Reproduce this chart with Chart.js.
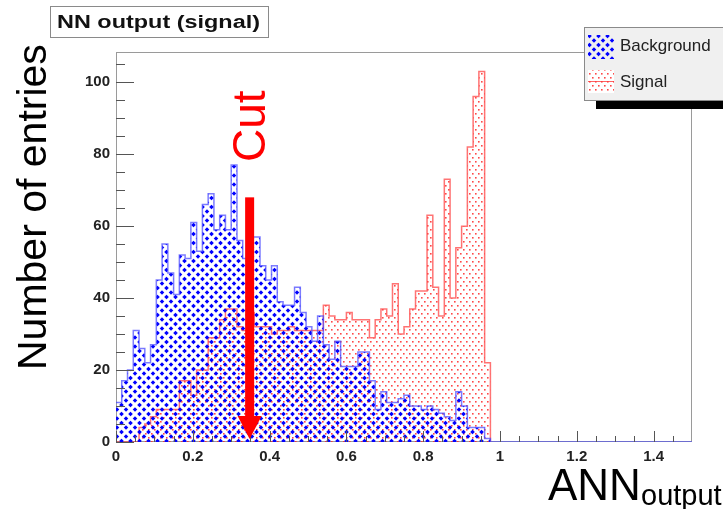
<!DOCTYPE html>
<html>
<head>
<meta charset="utf-8">
<script src="https://cdn.jsdelivr.net/npm/chart.js@4.4.0/dist/chart.umd.min.js"></script>
<style>
  html, body { margin: 0; padding: 0; background: #fff; }
  #wrap { width: 723px; height: 509px; }
</style>
</head>
<body>
<div id="wrap"><canvas id="chart" width="723" height="509"></canvas></div>
<script>
// histogram: 0.015 wide bins starting at 0, x range 0..1.5
const BIN_WIDTH = 0.015;
const X_MAX = 1.5;
const Y_MAX = 108.4;
const CUT_X = 0.348;
const CUT_TOP = 68;

const backgroundCounts = [
  11, 17, 20, 31, 26, 22, 27, 45, 55, 47,
  41, 52, 51, 61, 53, 66, 69, 59, 63, 59,
  77, 56, 51, 57, 57, 49, 45, 49, 39, 38,
  38, 43, 36, 32, 28, 35, 27, 23, 28, 21,
  21, 21, 25, 25, 17, 9, 14, 11, 11, 12,
  13, 10, 10, 9, 10, 9, 8, 7, 6, 14,
  10, 4, 4, 4, 1
];
const signalCounts = [
  0, 0, 0, 0, 4, 5, 7, 9, 9, 9,
  9, 17, 17, 13, 20, 20, 29, 29, 34, 37,
  37, 32, 31, 36, 32, 32, 32, 30, 31, 31,
  32, 31, 31, 31, 31, 31, 38, 35, 34, 34,
  36, 34, 34, 34, 29, 34, 37, 35, 44, 30,
  32, 37, 42, 42, 63, 43, 35, 73, 40, 54,
  60, 82, 96, 103, 22
];
const xTickStep = 0.2;
const yTickStep = 20;
const legendLabels = ["Background", "Signal"];

const FONT = "'Liberation Sans', Arial, Helvetica, sans-serif";
const canvas = document.getElementById("chart");
const ctx = canvas.getContext("2d");

// bin low edges with the bin content, closed with a zero point at the last edge
function toSteps(counts, extendTo) {
  const pts = counts.map((v, i) => ({ x: i * BIN_WIDTH, y: v }));
  pts.push({ x: counts.length * BIN_WIDTH, y: 0 });
  if (extendTo) pts.push({ x: extendTo, y: 0 });
  return pts;
}

function makeHatch() {
  const s = 9;
  const c = document.createElement("canvas");
  c.width = s; c.height = s;
  const g = c.getContext("2d");
  g.fillStyle = "#0000ff";
  g.fillRect(0, 0, s, s);
  g.globalCompositeOperation = "destination-out";
  g.lineWidth = 3.1;
  for (const o of [-s, 0, s]) {
    g.beginPath(); g.moveTo(o, 0); g.lineTo(o + s, s); g.stroke();
    g.beginPath(); g.moveTo(o, s); g.lineTo(o + s, 0); g.stroke();
  }
  return ctx.createPattern(c, "repeat");
}

function makeDots() {
  const c = document.createElement("canvas");
  c.width = 6; c.height = 8;
  const g = c.getContext("2d");
  g.fillStyle = "rgba(255,40,40,0.85)";
  g.fillRect(1, 1, 1.6, 1.6);
  g.fillRect(4, 5, 1.6, 1.6);
  return ctx.createPattern(c, "repeat");
}

const hatch = makeHatch();
const dots = makeDots();

const rootFrame = {
  id: "rootFrame",
  beforeDatasetsDraw(chart) {
    const a = chart.chartArea;
    const c = chart.ctx;
    c.save();
    c.strokeStyle = "#9a9a9a";
    c.lineWidth = 1;
    c.strokeRect(Math.round(a.left) + 0.5, Math.round(a.top) + 0.5,
      Math.round(a.right - a.left) - 1, Math.round(a.bottom - a.top) - 1);
    c.restore();
  },
  afterDatasetsDraw(chart) {
    const c = chart.ctx;
    const xs = chart.scales.x, ys = chart.scales.y;
    const a = chart.chartArea;
    c.save();
    c.strokeStyle = "#555";
    c.lineWidth = 1;
    c.beginPath();
    for (let k = 0; k * 0.05 < X_MAX - 1e-9; k++) {
      const px = Math.round(xs.getPixelForValue(k * 0.05)) + 0.5;
      const len = k % 4 === 0 ? 11 : 6;
      c.moveTo(px, a.bottom);
      c.lineTo(px, a.bottom - len);
    }
    for (let k = 0; k * 5 < Y_MAX; k++) {
      const py = Math.round(ys.getPixelForValue(k * 5)) + 0.5;
      const len = k % 4 === 0 ? 18 : 9;
      c.moveTo(a.left, py);
      c.lineTo(a.left + len, py);
    }
    c.stroke();
    c.restore();
  },
  afterDraw(chart) {
    const c = chart.ctx;
    const xs = chart.scales.x, ys = chart.scales.y;

    // cut arrow
    const ax = xs.getPixelForValue(CUT_X);
    const top = ys.getPixelForValue(CUT_TOP);
    const tip = ys.getPixelForValue(0) - 3;
    c.save();
    c.fillStyle = "#ff0000";
    c.fillRect(ax - 4.5, top, 9, tip - top - 20);
    c.beginPath();
    c.moveTo(ax - 12, tip - 23);
    c.lineTo(ax + 12, tip - 23);
    c.lineTo(ax, tip);
    c.closePath();
    c.fill();

    c.save();
    c.translate(265, 162);
    c.rotate(-Math.PI / 2);
    c.font = "46px " + FONT;
    c.textAlign = "left";
    c.textBaseline = "alphabetic";
    c.fillText("Cut", 0, 0);
    c.restore();

    // axis titles
    c.fillStyle = "#000";
    c.save();
    c.translate(46, 370);
    c.rotate(-Math.PI / 2);
    c.font = "41px " + FONT;
    c.fillText("Number of entries", 0, 0);
    c.restore();

    c.font = "44px " + FONT;
    c.fillText("ANN", 548, 500);
    c.font = "29px " + FONT;
    c.fillText("output", 641, 505);

    // title box
    c.fillStyle = "#fff";
    c.fillRect(50, 6, 218, 31);
    c.strokeStyle = "#8a8a8a";
    c.lineWidth = 1;
    c.strokeRect(50.5, 6.5, 218, 31);
    c.fillStyle = "#111";
    c.font = "bold 18px " + FONT;
    const title = "NN output (signal)";
    const tw = c.measureText(title).width;
    c.save();
    c.translate(57, 28);
    c.scale(203 / tw, 1);
    c.fillText(title, 0, 0);
    c.restore();

    // legend
    c.fillStyle = "#000";
    c.fillRect(596, 101, 127, 8);
    c.fillStyle = "#f0f0f0";
    c.fillRect(584, 27, 140, 74);
    c.strokeStyle = "#8a8a8a";
    c.strokeRect(584.5, 27.5, 150, 73);
    c.fillStyle = hatch;
    c.fillRect(588, 35, 26, 24);
    c.fillStyle = "#fff";
    c.fillRect(588, 70, 26, 23);
    c.fillStyle = dots;
    c.fillRect(588, 70, 26, 23);
    c.strokeStyle = "rgba(255,60,60,0.8)";
    c.beginPath();
    c.moveTo(588, 81.5);
    c.lineTo(614, 81.5);
    c.stroke();
    c.fillStyle = "#222";
    c.font = "17px " + FONT;
    c.fillText(legendLabels[0], 620, 51);
    c.fillText(legendLabels[1], 620, 87);
    c.restore();
  }
};

new Chart(ctx, {
  type: "line",
  data: {
    datasets: [
      {
        label: legendLabels[0],
        data: toSteps(backgroundCounts, X_MAX),
        stepped: "before",
        borderColor: "rgba(70,70,255,0.7)",
        borderWidth: 1.5,
        backgroundColor: hatch,
        fill: "origin",
        pointRadius: 0,
        order: 1
      },
      {
        label: legendLabels[1],
        data: toSteps(signalCounts),
        stepped: "before",
        borderColor: "rgba(255,70,70,0.75)",
        borderWidth: 1.5,
        backgroundColor: dots,
        fill: "origin",
        pointRadius: 0,
        order: 2
      }
    ]
  },
  options: {
    responsive: false,
    animation: false,
    layout: { padding: { left: 0, right: 31, top: 52, bottom: 0 } },
    plugins: { legend: { display: false }, tooltip: { enabled: false } },
    scales: {
      x: {
        type: "linear",
        min: 0,
        max: X_MAX,
        afterFit: (s) => { s.height = 67; },
        grid: { display: false, drawTicks: false },
        border: { display: false },
        ticks: {
          stepSize: xTickStep,
          includeBounds: false,
          autoSkip: false,
          maxRotation: 0,
          padding: 6,
          color: "#222",
          font: { family: FONT, weight: "bold", size: 15 },
          callback: (v) => String(Number(v.toFixed(2)))
        }
      },
      y: {
        min: 0,
        max: Y_MAX,
        afterFit: (s) => { s.width = 116; },
        grid: { display: false, drawTicks: false },
        border: { display: false },
        ticks: {
          stepSize: yTickStep,
          includeBounds: false,
          padding: 6,
          color: "#222",
          font: { family: FONT, weight: "bold", size: 15 }
        }
      }
    }
  },
  plugins: [rootFrame]
});
</script>
</body>
</html>
